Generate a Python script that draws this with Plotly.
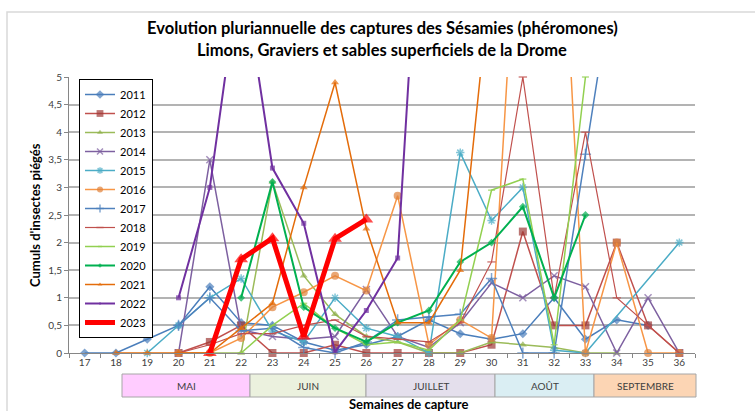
import plotly.graph_objects as go

# ---------------- data ----------------
weeks = list(range(17, 37))
week_labels = [str(w) for w in weeks]

y2011 = [0, 0, 0.25, 0.5, 1.2, 0.55, 0.5, 0.2, 0.05, 0.15, 0.3, 0.6, 0.35, 0.25, 0.35, 1.0, 0.25, 0.6, 0.5, None]
y2012 = [None, None, None, 0, 0.2, 0.5, 0, 0, 0.15, 0, 0, 0, 0, 0.15, 2.2, 0.5, 0.5, 2.0, 0.5, 0]
y2013 = [None, None, None, 0, 0, 0, 3.1, 1.4, 0.7, 0.3, 0.2, 0, 0, 0.2, 0.15, 0.1, 0, 0, None, None]
y2014 = [None, None, None, 0, 3.5, 0.42, 0.3, 0.25, 0.3, 1.15, 0.3, 0.1, 0.55, 1.27, 1.0, 1.4, 1.2, 0, 1.0, 0]
y2015 = [None, None, 0, 0.5, 1.0, 1.35, 0.4, 0.2, 1.0, 0.45, 0.3, 0, 3.63, 2.4, 3.0, 0.05, 0, None, None, 2.0]
y2016 = [None, None, None, 0, 0, 0.27, 0.83, 1.1, 1.4, 1.13, 2.85, 0.15, 0.6, 0.27, 9.8, 11.0, 0, 2.0, 0, 0]
y2017 = [None, None, None, 0.5, 1.0, 0.4, 0.45, 0.1, 0, 0.2, 0.6, 0.65, 0.7, 1.35, 0, 0, 3.6, 7.2, None, None]
y2018 = [None, None, None, 0, 0.15, 0.35, 0.35, 0.5, 0.6, 0.3, 0.25, 0.2, 0.55, 1.65, 5.0, 1.0, 4.0, 1.0, 0.5, 0]
y2019 = [None, None, None, None, None, 0, 0.5, 0.9, 0.45, 0.15, 0.2, 0.05, 0.6, 2.95, 3.15, 0.15, 5.0, None, None, None]
y2020 = [None, None, None, None, None, 1.0, 3.1, 0.83, 0.45, 0.2, 0.55, 0.77, 1.65, 2.0, 2.65, 1.0, 2.5, None, None, None]
y2021 = [None, 0, 0, 0, 0, 0.45, 0.9, 3.0, 4.9, 2.25, 0.55, 0.55, 1.5, 7.0, None, None, None, None, None, None]
y2022 = [None, None, None, 1.0, 3.0, 7.1, 3.35, 2.35, 0.02, 0.77, 1.72, 11.0, None, None, None, None, None, None, None, None]
y2023 = [None, None, None, None, 0, 1.7, 2.08, 0.3, 2.07, 2.42, None, None, None, None, None, None, None, None, None, None]

months = ["MAI", "JUIN", "JUILLET", "AOÛT", "SEPTEMBRE"]

title_line1 = "Evolution pluriannuelle des captures des Sésamies (phéromones)"
title_line2 = "Limons, Graviers et sables superficiels de la Drome"
y_title = "Cumuls d'insectes piégés"
x_title = "Semaines de capture"

# ---------------- styles ----------------
series = [
    ("2011", y2011, "#4A7EBB", "diamond", 7, 1.5, "#4A7EBB"),
    ("2012", y2012, "#C0504D", "square", 8, 1.5, "#9E3B38"),
    ("2013", y2013, "#9BBB59", "triangle-up", 7, 1.5, "#8FAE4C"),
    ("2014", y2014, "#7D60A0", "x-thin-open", 7, 1.5, "#7D60A0"),
    ("2015", y2015, "#4BACC6", "asterisk-open", 7, 1.5, "#4BACC6"),
    ("2016", y2016, "#F79646", "circle", 8, 1.5, "#E0823A"),
    ("2017", y2017, "#4F81BD", "cross-thin-open", 8, 1.5, "#4F81BD"),
    ("2018", y2018, "#C0504D", "line-ew-open", 6, 1.2, "#C0504D"),
    ("2019", y2019, "#92D050", "line-ew-open", 5, 1.5, "#92D050"),
    ("2020", y2020, "#00B050", "diamond", 6, 2, "#00B050"),
    ("2021", y2021, "#E46C0A", "triangle-up", 7, 1.5, "#E46C0A"),
    ("2022", y2022, "#7030A0", "square", 5, 2, "#7030A0"),
    ("2023", y2023, "#FF0000", "triangle-up", 12, 5, "#FF0000"),
]

# plot area in pixels
L, R, T, B = 69, 695, 77, 353
W, H = 755, 411
def px(x):
    return (x - L) / (R - L)
def py(y):
    return (B - y) / (B - T)

fig = go.Figure()
for name, vals, col, sym, ms, lw, mcol in series:
    sizes = [ms if (v is not None and v <= 5.01) else 0 for v in vals]
    open_sym = sym.endswith("open")
    fig.add_trace(go.Scatter(
        x=weeks, y=vals, name=name, mode="lines+markers",
        connectgaps=True, cliponaxis=False,
        line=dict(color=col, width=lw),
        marker=dict(symbol=sym, size=sizes, color=mcol,
                    line=dict(color=mcol, width=1.5 if open_sym else 0)),
    ))

font_main = "Lato, 'Liberation Sans', sans-serif"

annotations = [
    dict(x=0.5, y=py(28), xref="paper", yref="paper", text="<b>" + title_line1 + "</b>",
         showarrow=False, font=dict(size=16.5, color="#000000", family=font_main), xanchor="center", yanchor="middle"),
    dict(x=0.5, y=py(50), xref="paper", yref="paper", text="<b>" + title_line2 + "</b>",
         showarrow=False, font=dict(size=16.5, color="#000000", family=font_main), xanchor="center", yanchor="middle"),
    dict(x=px(35), y=0.5, xref="paper", yref="paper", text="<b>" + y_title + "</b>", textangle=-90,
         showarrow=False, font=dict(size=13, color="#000000", family=font_main), xanchor="center", yanchor="middle"),
    dict(x=px(409), y=py(404), xref="paper", yref="paper", text="<b>" + x_title + "</b>",
         showarrow=False, font=dict(size=13, color="#000000", family=font_main), xanchor="center", yanchor="middle"),
]

month_edges = [122, 250, 366, 495, 594, 696]
month_colors = ["#FFCCFF", "#EBF1DE", "#E4DFEC", "#DAEEF3", "#FCD5B4"]
band_top, band_bot = 374, 397
shapes = [
    dict(type="rect", xref="paper", yref="paper", x0=px(7), x1=px(770), y0=py(430), y1=py(12),
         line=dict(color="#D9D9D9", width=1.5), fillcolor="rgba(0,0,0,0)", layer="below"),
]
for i, m in enumerate(months):
    shapes.append(dict(type="rect", xref="paper", yref="paper",
                       x0=px(month_edges[i]), x1=px(month_edges[i + 1]),
                       y0=py(band_bot), y1=py(band_top),
                       line=dict(color="#A6A6A6", width=1), fillcolor=month_colors[i]))
    annotations.append(dict(x=px((month_edges[i] + month_edges[i + 1]) / 2), y=py((band_top + band_bot) / 2),
                            xref="paper", yref="paper", text=m, showarrow=False,
                            font=dict(size=10, color="#404040", family=font_main),
                            xanchor="center", yanchor="middle"))

fig.update_layout(
    width=W, height=H, autosize=False,
    margin=dict(l=L, r=W - R, t=T, b=H - B, pad=0),
    paper_bgcolor="white", plot_bgcolor="white",
    separators=", ",
    font=dict(family=font_main, size=10, color="#404040"),
    showlegend=True,
    legend=dict(x=px(79), y=py(79), xanchor="left", yanchor="top",
                bgcolor="white", bordercolor="#000000", borderwidth=1,
                font=dict(size=11, color="#000000", family=font_main),
                tracegroupgap=0, itemwidth=30),
    annotations=annotations,
    shapes=shapes,
    xaxis=dict(range=[16.5, 36.5], tickmode="array", tickvals=weeks, ticktext=week_labels,
               showgrid=False, zeroline=False, showline=True, linecolor="#868686", linewidth=1,
               ticks="", tickfont=dict(size=10, color="#404040"),
               minor=dict(tickmode="array", tickvals=[w - 0.5 for w in weeks] + [36.5],
                          ticks="outside", ticklen=4, tickcolor="#868686", showgrid=False)),
    yaxis=dict(range=[0, 5], dtick=0.5, tick0=0, showgrid=True, gridcolor="#B3B3B3", gridwidth=1.5,
               zeroline=False, showline=True, linecolor="#868686", linewidth=1,
               ticks="outside", ticklen=4, tickcolor="#868686",
               tickfont=dict(size=10, color="#404040")),
)

fig.write_html("out.html", config={"displayModeBar": False},
               post_script="document.body.style.margin='0';document.body.style.overflow='hidden';")
